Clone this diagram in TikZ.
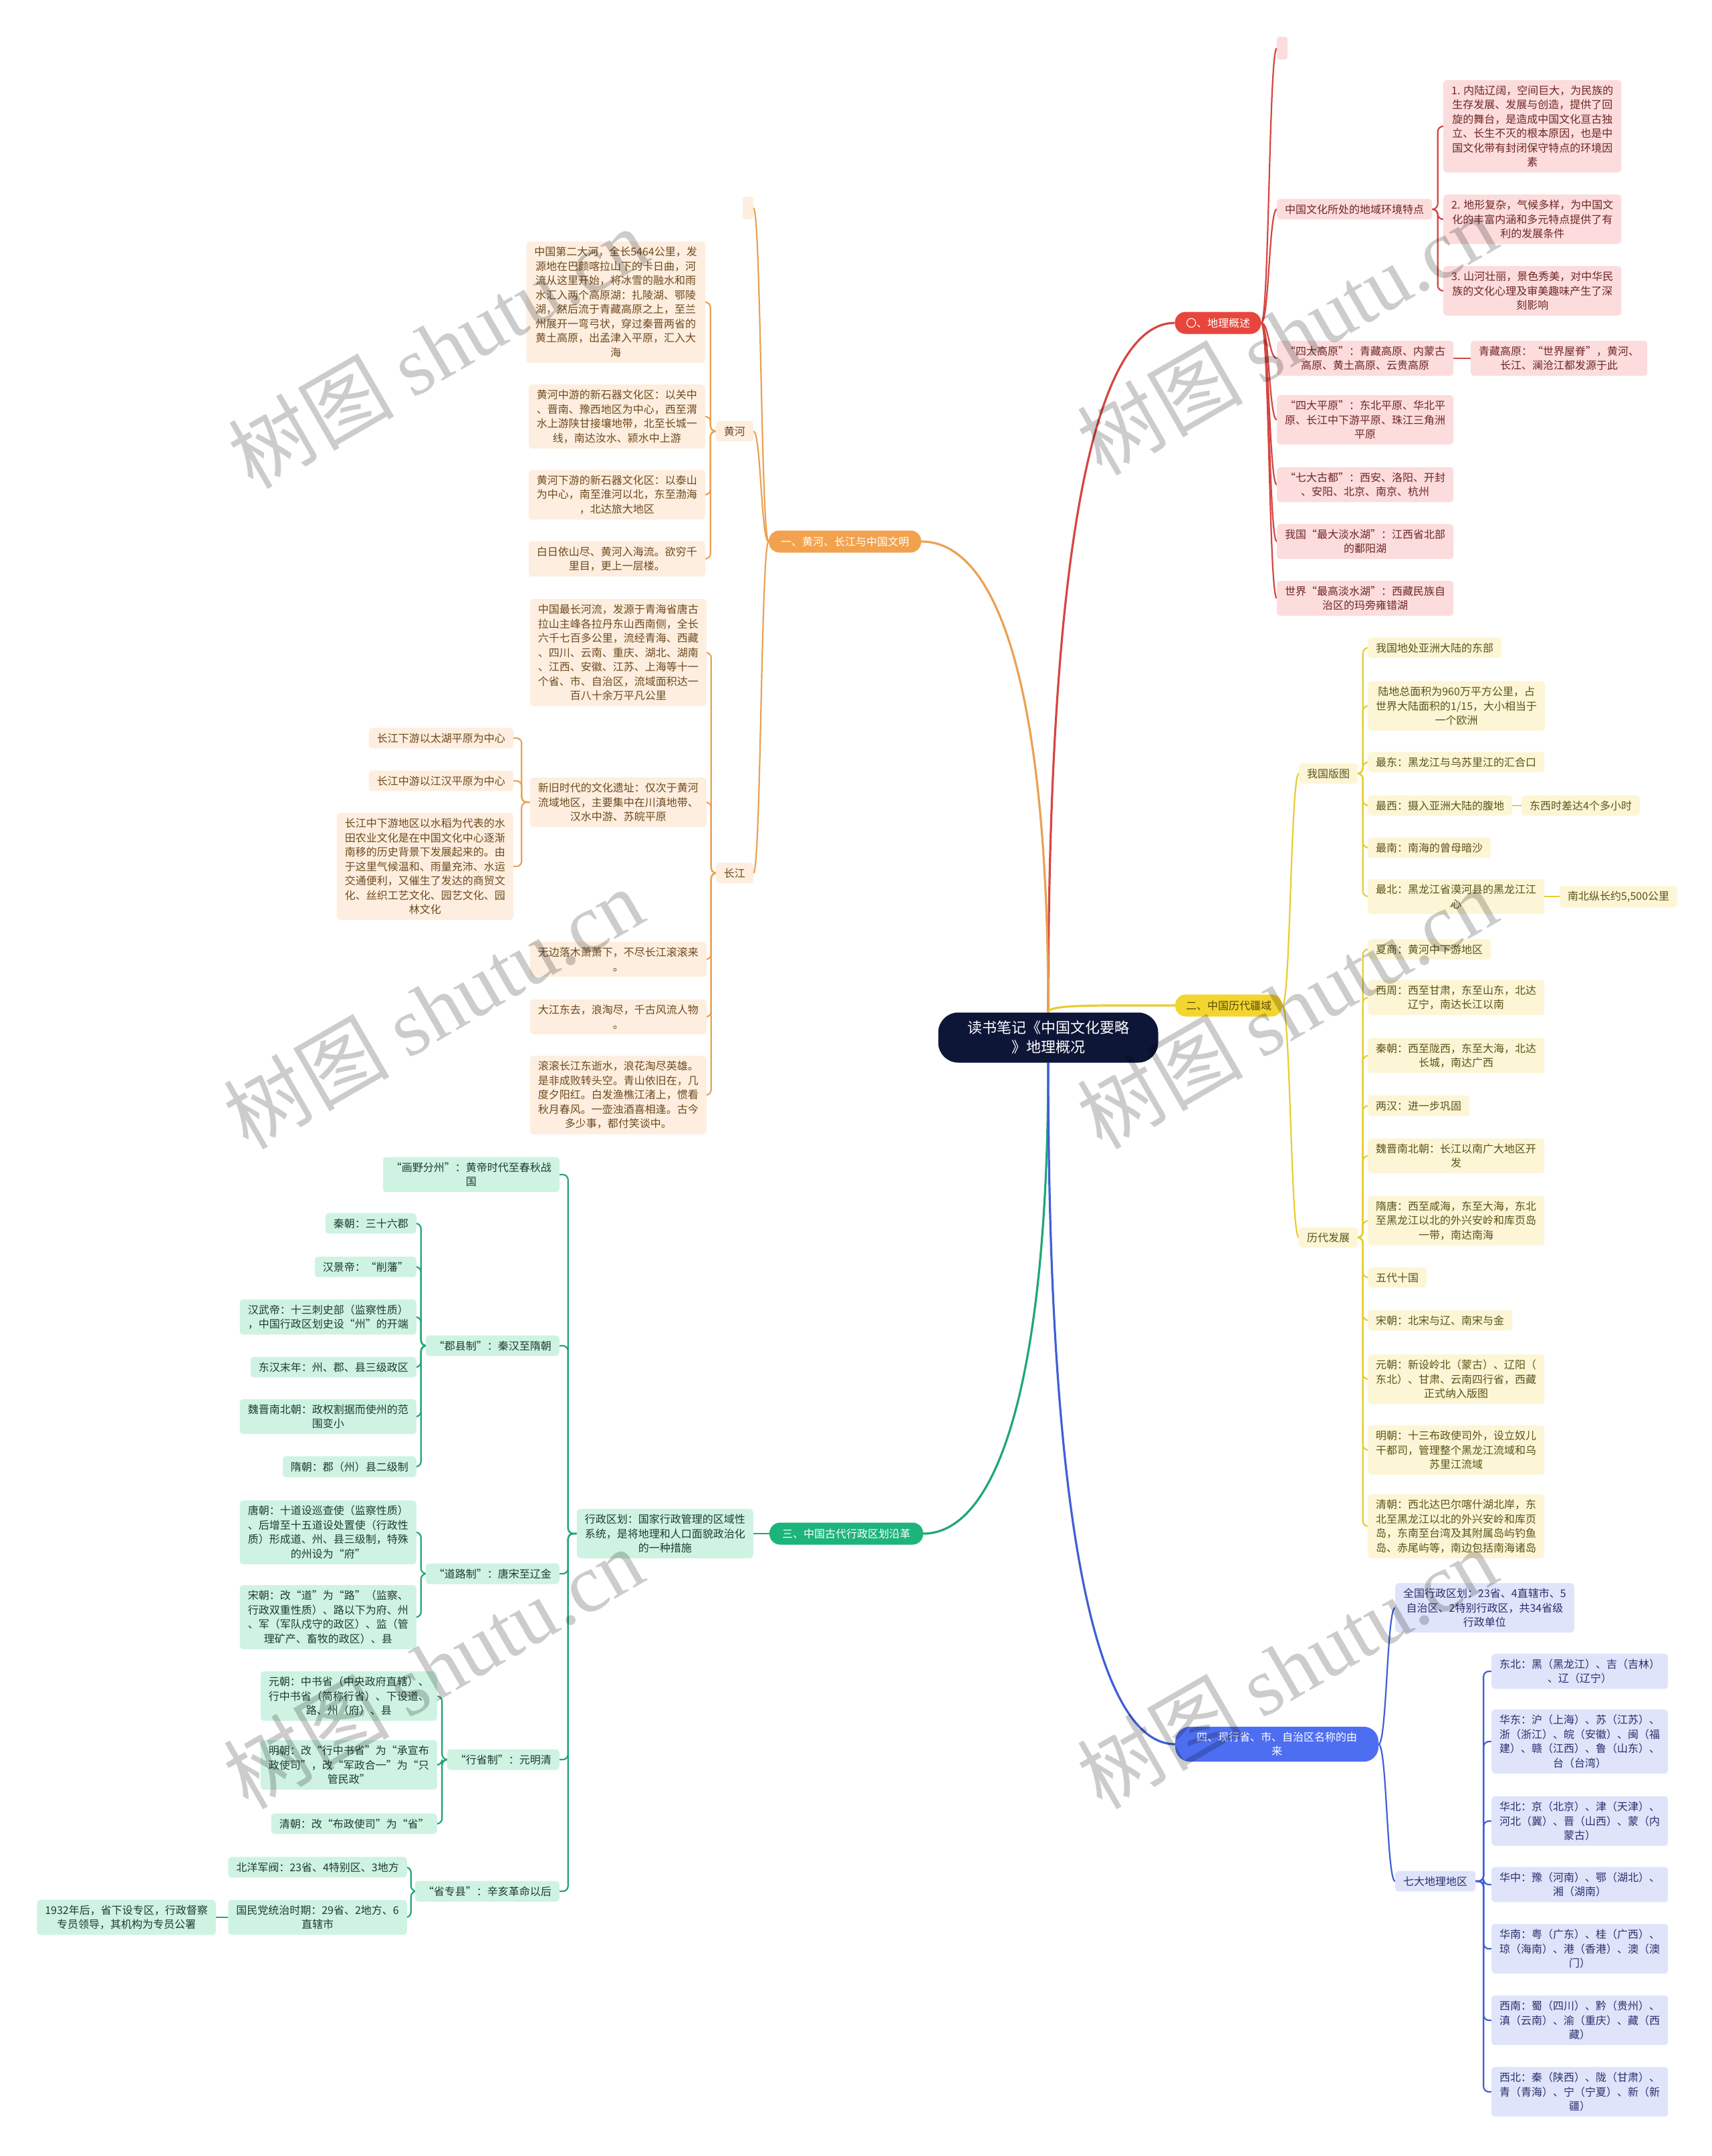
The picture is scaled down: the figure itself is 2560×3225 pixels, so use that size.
\documentclass[tikz,border=0pt]{standalone}
\usepackage{fontspec}
\setmainfont{Noto Sans CJK SC}
\newfontfamily\wmlatin{Liberation Serif}
\usetikzlibrary{calc}
\pgfdeclarelayer{bg}
\pgfsetlayers{bg,main}

\definecolor{rfill}{HTML}{FCDCDC}\definecolor{rtext}{HTML}{6E2626}\definecolor{rline}{HTML}{D64541}\definecolor{rpill}{HTML}{E8453C}
\definecolor{ofill}{HTML}{FDEEDF}\definecolor{otext}{HTML}{6E4A1E}\definecolor{oline}{HTML}{E9A253}\definecolor{opill}{HTML}{F2A24E}
\definecolor{yfill}{HTML}{FDF6D6}\definecolor{ytext}{HTML}{5C5218}\definecolor{yline}{HTML}{E8CD2E}\definecolor{ypill}{HTML}{F3D530}\definecolor{ypilltext}{HTML}{5A4A0E}
\definecolor{gfill}{HTML}{CFF3E3}\definecolor{gtext}{HTML}{1E3B2F}\definecolor{gline}{HTML}{1FA774}\definecolor{gpill}{HTML}{1DB47B}
\definecolor{bfill}{HTML}{DFE4FB}\definecolor{btext}{HTML}{28306B}\definecolor{bline}{HTML}{3F5FD6}\definecolor{bpill}{HTML}{4E6EF2}
\definecolor{cfill}{HTML}{0D1636}

\newcommand\curvlink[3]{\draw[#1] (#2) .. controls ($(#2)!0.5!(#3|-#2)$) and ($(#3)!0.5!(#2|-#3)$) .. (#3);}
\newcommand\elblink[3]{\draw[#1,rounded corners=8pt] (#2) -- ($(#2)!0.5!(#3|-#2)$) |- (#3);}

\tikzset{
  base/.style={font=\fontsize{16pt}{21.5pt}\selectfont, align=center, inner xsep=12pt, inner ysep=8pt, rounded corners=5pt},
  rb/.style={base, fill=rfill, text=rtext},
  ob/.style={base, fill=ofill, text=otext},
  yb/.style={base, fill=yfill, text=ytext},
  gb/.style={base, fill=gfill, text=gtext},
  bb/.style={base, fill=bfill, text=btext},
  pill/.style={font=\fontsize{16pt}{21.5pt}\selectfont, align=center, text=white, inner xsep=10pt, inner ysep=8pt, minimum height=33pt, rounded corners=16pt},
  emp/.style={minimum width=16pt, minimum height=34pt, inner sep=0pt, rounded corners=4pt},
  mainln/.style={line width=3.2pt},
  subln/.style={line width=2.2pt},
  wm/.style={text=black, text opacity=0.2, rotate=30, font=\fontsize{124pt}{124pt}\selectfont, inner sep=0pt}
}

\begin{document}
\begin{tikzpicture}[x=1pt,y=-1pt]
\useasboundingbox (0,0) rectangle (2560,3225);

% ---------------- centre ----------------
\node[fill=cfill, text=white, font=\fontsize{22pt}{29pt}\selectfont, align=center, minimum width=329pt, minimum height=75pt, inner ysep=10pt, rounded corners=30pt] (C) at (1568,1552) {读书笔记《中国文化要略\\》地理概况};

% ---------------- pills ----------------
\node[pill, fill=rpill, minimum width=129pt] (rp) at (1822,483) {〇、地理概述};
\node[pill, fill=opill, minimum width=228pt] (op) at (1264,810) {一、黄河、长江与中国文明};
\node[pill, fill=ypill, text=ypilltext, minimum width=160pt] (yp) at (1838,1504) {二、中国历代疆域};
\node[pill, fill=gpill, minimum width=230pt] (gp) at (1266,2294) {三、中国古代行政区划沿革};
\node[pill, fill=bpill, minimum width=304pt, rounded corners=22pt] (bp) at (1910,2609) {四、现行省、市、自治区名称的由\\来};

% ---------------- red branch ----------------
\node[emp, fill=rfill, anchor=west] (e0) at (1910,72) {};
\node[rb, anchor=west] (r1) at (1910,313) {中国文化所处的地域环境特点};
\node[rb, anchor=west] (r1a) at (2159,189) {1. 内陆辽阔，空间巨大，为民族的\\生存发展、发展与创造，提供了回\\旋的舞台，是造成中国文化亘古独\\立、长生不灭的根本原因，也是中\\国文化带有封闭保守特点的环境因\\素};
\node[rb, anchor=west] (r1b) at (2159,328) {2. 地形复杂，气候多样，为中国文\\化的丰富内涵和多元特点提供了有\\利的发展条件};
\node[rb, anchor=west] (r1c) at (2159,435) {3. 山河壮丽，景色秀美，对中华民\\族的文化心理及审美趣味产生了深\\刻影响};
\node[rb, anchor=west] (r2) at (1910,536) {“四大高原”：青藏高原、内蒙古\\高原、黄土高原、云贵高原};
\node[rb, anchor=west] (r2b) at (2200,536) {青藏高原：“世界屋脊”，黄河、\\长江、澜沧江都发源于此};
\node[rb, anchor=west] (r3) at (1910,628) {“四大平原”：东北平原、华北平\\原、长江中下游平原、珠江三角洲\\平原};
\node[rb, anchor=west] (r4) at (1910,725) {“七大古都”：西安、洛阳、开封\\、安阳、北京、南京、杭州};
\node[rb, anchor=west] (r5) at (1910,810) {我国“最大淡水湖”：江西省北部\\的鄱阳湖};
\node[rb, anchor=west] (r6) at (1910,895) {世界“最高淡水湖”：西藏民族自\\治区的玛旁雍错湖};

% ---------------- orange branch ----------------
\node[emp, fill=ofill, anchor=east] (e1) at (1127,311) {};
\node[ob, anchor=east] (hh) at (1127,645) {黄河};
\node[ob, anchor=east] (cj) at (1127,1306) {长江};
\node[ob, anchor=east] (h1) at (1055,452) {中国第二大河，全长5464公里，发\\源地在巴颜喀拉山下的卡日曲，河\\流从这里开始，将冰雪的融水和雨\\水汇入两个高原湖：扎陵湖、鄂陵\\湖，然后流于青藏高原之上，至兰\\州展开一弯弓状，穿过秦晋两省的\\黄土高原，出孟津入平原，汇入大\\海};
\node[ob, anchor=east] (h2) at (1055,623) {黄河中游的新石器文化区：以关中\\、晋南、豫西地区为中心，西至渭\\水上游陕甘接壤地带，北至长城一\\线，南达汝水、颍水中上游};
\node[ob, anchor=east] (h3) at (1055,740) {黄河下游的新石器文化区：以泰山\\为中心，南至淮河以北，东至渤海\\，北达旅大地区};
\node[ob, anchor=east] (h4) at (1055,836) {白日依山尽、黄河入海流。欲穷千\\里目，更上一层楼。};
\node[ob, anchor=east] (c1) at (1057,976) {中国最长河流，发源于青海省唐古\\拉山主峰各拉丹东山西南侧，全长\\六千七百多公里，流经青海、西藏\\、四川、云南、重庆、湖北、湖南\\、江西、安徽、江苏、上海等十一\\个省、市、自治区，流域面积达一\\百八十余万平凡公里};
\node[ob, anchor=east] (c2) at (1057,1200) {新旧时代的文化遗址：仅次于黄河\\流域地区，主要集中在川滇地带、\\汉水中游、苏皖平原};
\node[ob, anchor=east] (c3) at (1057,1435) {无边落木萧萧下，不尽长江滚滚来\\。};
\node[ob, anchor=east] (c4) at (1057,1521) {大江东去，浪淘尽，千古风流人物\\。};
\node[ob, anchor=east] (c5) at (1057,1638) {滚滚长江东逝水，浪花淘尽英雄。\\是非成败转头空。青山依旧在，几\\度夕阳红。白发渔樵江渚上，惯看\\秋月春风。一壶浊酒喜相逢。古今\\多少事，都付笑谈中。};
\node[ob, anchor=east] (l1) at (768,1104) {长江下游以太湖平原为中心};
\node[ob, anchor=east] (l2) at (768,1168) {长江中游以江汉平原为中心};
\node[ob, anchor=east] (l3) at (768,1296) {长江中下游地区以水稻为代表的水\\田农业文化是在中国文化中心逐渐\\南移的历史背景下发展起来的。由\\于这里气候温和、雨量充沛、水运\\交通便利，又催生了发达的商贸文\\化、丝织工艺文化、园艺文化、园\\林文化};

% ---------------- yellow branch ----------------
\node[yb, anchor=west] (gt) at (1943,1157) {我国版图};
\node[yb, anchor=west] (ld) at (1943,1851) {历代发展};
\node[yb, anchor=west] (y1) at (2046,969) {我国地处亚洲大陆的东部};
\node[yb, anchor=west] (y2) at (2046,1056) {陆地总面积为960万平方公里，占\\世界大陆面积的1/15，大小相当于\\一个欧洲};
\node[yb, anchor=west] (y3) at (2046,1140) {最东：黑龙江与乌苏里江的汇合口};
\node[yb, anchor=west] (y4) at (2046,1205) {最西：摄入亚洲大陆的腹地};
\node[yb, anchor=west] (y4b) at (2276,1205) {东西时差达4个多小时};
\node[yb, anchor=west] (y5) at (2046,1268) {最南：南海的曾母暗沙};
\node[yb, anchor=west] (y6) at (2046,1341) {最北：黑龙江省漠河县的黑龙江江\\心};
\node[yb, anchor=west] (y6b) at (2333,1341) {南北纵长约5,500公里};
\node[yb, anchor=west] (d1) at (2046,1420) {夏商：黄河中下游地区};
\node[yb, anchor=west] (d2) at (2046,1492) {西周：西至甘肃，东至山东，北达\\辽宁，南达长江以南};
\node[yb, anchor=west] (d3) at (2046,1579) {秦朝：西至陇西，东至大海，北达\\长城，南达广西};
\node[yb, anchor=west] (d4) at (2046,1654) {两汉：进一步巩固};
\node[yb, anchor=west] (d5) at (2046,1729) {魏晋南北朝：长江以南广大地区开\\发};
\node[yb, anchor=west] (d6) at (2046,1826) {隋唐：西至咸海，东至大海，东北\\至黑龙江以北的外兴安岭和库页岛\\一带，南达南海};
\node[yb, anchor=west] (d7) at (2046,1911) {五代十国};
\node[yb, anchor=west] (d8) at (2046,1975) {宋朝：北宋与辽、南宋与金};
\node[yb, anchor=west] (d9) at (2046,2063) {元朝：新设岭北（蒙古）、辽阳（\\东北）、甘肃、云南四行省，西藏\\正式纳入版图};
\node[yb, anchor=west] (d10) at (2046,2169) {明朝：十三布政使司外，设立奴儿\\干都司，管理整个黑龙江流域和乌\\苏里江流域};
\node[yb, anchor=west] (d11) at (2046,2283) {清朝：西北达巴尔喀什湖北岸，东\\北至黑龙江以北的外兴安岭和库页\\岛，东南至台湾及其附属岛屿钓鱼\\岛、赤尾屿等，南边包括南海诸岛};

% ---------------- green branch ----------------
\node[gb, anchor=east] (g0) at (1127,2294) {行政区划：国家行政管理的区域性\\系统，是将地理和人口面貌政治化\\的一种措施};
\node[gb, anchor=east] (g1) at (837,1757) {“画野分州”：黄帝时代至春秋战\\国};
\node[gb, anchor=east] (g2) at (837,2013) {“郡县制”：秦汉至隋朝};
\node[gb, anchor=east] (g3) at (837,2354) {“道路制”：唐宋至辽金};
\node[gb, anchor=east] (g4) at (837,2632) {“行省制”：元明清};
\node[gb, anchor=east] (g5) at (837,2829) {“省专县”：辛亥革命以后};
\node[gb, anchor=east] (q1) at (623,1830) {秦朝：三十六郡};
\node[gb, anchor=east] (q2) at (623,1895) {汉景帝：“削藩”};
\node[gb, anchor=east] (q3) at (623,1970) {汉武帝：十三刺史部（监察性质）\\，中国行政区划史设“州”的开端};
\node[gb, anchor=east] (q4) at (623,2045) {东汉末年：州、郡、县三级政区};
\node[gb, anchor=east] (q5) at (623,2119) {魏晋南北朝：政权割据而使州的范\\围变小};
\node[gb, anchor=east] (q6) at (623,2194) {隋朝：郡（州）县二级制};
\node[gb, anchor=east] (t1) at (623,2292) {唐朝：十道设巡查使（监察性质）\\、后增至十五道设处置使（行政性\\质）形成道、州、县三级制，特殊\\的州设为“府”};
\node[gb, anchor=east] (t2) at (623,2419) {宋朝：改“道”为“路”（监察、\\行政双重性质）、路以下为府、州\\、军（军队戍守的政区）、监（管\\理矿产、畜牧的政区）、县};
\node[gb, anchor=east] (u1) at (654,2537) {元朝：中书省（中央政府直辖）、\\行中书省（简称行省）、下设道、\\路、州（府）、县};
\node[gb, anchor=east] (u2) at (654,2640) {明朝：改“行中书省”为“承宣布\\政使司”，改“军政合一”为“只\\管民政”};
\node[gb, anchor=east] (u3) at (654,2728) {清朝：改“布政使司”为“省”};
\node[gb, anchor=east] (v1) at (609,2793) {北洋军阀：23省、4特别区、3地方};
\node[gb, anchor=east] (v2) at (609,2868) {国民党统治时期：29省、2地方、6\\直辖市};
\node[gb, anchor=east] (v3) at (323,2868) {1932年后，省下设专区，行政督察\\专员领导，其机构为专员公署};

% ---------------- blue branch ----------------
\node[bb, anchor=west] (b1) at (2087,2405) {全国行政区划：23省、4直辖市、5\\自治区、2特别行政区，共34省级\\行政单位};
\node[bb, anchor=west] (b2) at (2087,2814) {七大地理地区};
\node[bb, anchor=west] (k1) at (2231,2500) {东北：黑（黑龙江）、吉（吉林）\\、辽（辽宁）};
\node[bb, anchor=west] (k2) at (2231,2605) {华东：沪（上海）、苏（江苏）、\\浙（浙江）、皖（安徽）、闽（福\\建）、赣（江西）、鲁（山东）、\\台（台湾）};
\node[bb, anchor=west] (k3) at (2231,2724) {华北：京（北京）、津（天津）、\\河北（冀）、晋（山西）、蒙（内\\蒙古）};
\node[bb, anchor=west] (k4) at (2231,2819) {华中：豫（河南）、鄂（湖北）、\\湘（湖南）};
\node[bb, anchor=west] (k5) at (2231,2915) {华南：粤（广东）、桂（广西）、\\琼（海南）、港（香港）、澳（澳\\门）};
\node[bb, anchor=west] (k6) at (2231,3022) {西南：蜀（四川）、黔（贵州）、\\滇（云南）、渝（重庆）、藏（西\\藏）};
\node[bb, anchor=west] (k7) at (2231,3129) {西北：秦（陕西）、陇（甘肃）、\\青（青海）、宁（宁夏）、新（新\\疆）};

% ---------------- connectors ----------------
\begin{pgfonlayer}{bg}
\fill[white] (0,0) rectangle (2560,3225);
% centre to pills
\draw[mainln, rline] (C.north) .. controls ($(C.north)+(0,-750)$) and ($(rp.west)+(-110,0)$) .. (rp.west);
\draw[mainln, oline] (C.north) .. controls ($(C.north)+(0,-500)$) and ($(op.east)+(110,0)$) .. (op.east);
\draw[mainln, yline] (C.north) .. controls ($(C.north)+(0,-12)$) and ($(yp.west)+(-120,0)$) .. (yp.west);
\draw[mainln, gline] (C.south) .. controls ($(C.south)+(0,480)$) and ($(gp.east)+(110,0)$) .. (gp.east);
\draw[mainln, bline] (C.south) .. controls ($(C.south)+(0,730)$) and ($(bp.west)+(-110,0)$) .. (bp.west);
% red
\foreach \n in {e0,r1,r2,r3,r4,r5,r6}{\curvlink{subln,rline}{rp.east}{\n.west}}
\foreach \n in {r1a,r1b,r1c}{\elblink{subln,rline}{r1.east}{\n.west}}
\draw[subln, rline] (r2.east) -- (r2b.west);
% orange
\foreach \n in {e1,hh,cj}{\curvlink{subln,oline}{op.west}{\n.east}}
\foreach \n in {h1,h2,h3,h4}{\elblink{subln,oline}{hh.west}{\n.east}}
\foreach \n in {c1,c2,c3,c4,c5}{\elblink{subln,oline}{cj.west}{\n.east}}
\foreach \n in {l1,l2,l3}{\elblink{subln,oline}{c2.west}{\n.east}}
% yellow
\foreach \n in {gt,ld}{\curvlink{subln,yline}{yp.east}{\n.west}}
\foreach \n in {y1,y2,y3,y4,y5,y6}{\elblink{subln,yline}{gt.east}{\n.west}}
\foreach \n in {d1,d2,d3,d4,d5,d6,d7,d8,d9,d10,d11}{\elblink{subln,yline}{ld.east}{\n.west}}
\draw[subln, yline] (y4.east) -- (y4b.west);
\draw[subln, yline] (y6.east) -- (y6b.west);
% green
\draw[subln, gline] (gp.west) -- (g0.east);
\foreach \n in {g1,g2,g3,g4,g5}{\elblink{subln,gline}{g0.west}{\n.east}}
\foreach \n in {q1,q2,q3,q4,q5,q6}{\elblink{subln,gline}{g2.west}{\n.east}}
\foreach \n in {t1,t2}{\elblink{subln,gline}{g3.west}{\n.east}}
\foreach \n in {u1,u2,u3}{\elblink{subln,gline}{g4.west}{\n.east}}
\foreach \n in {v1,v2}{\elblink{subln,gline}{g5.west}{\n.east}}
\draw[subln, gline] (v2.west) -- (v3.east);
% blue
\foreach \n in {b1,b2}{\curvlink{subln,bline}{bp.east}{\n.west}}
\foreach \n in {k1,k2,k3,k4,k5,k6,k7}{\elblink{subln,bline}{b2.east}{\n.west}}
\end{pgfonlayer}

% ---------------- watermarks ----------------
\foreach \p [count=\i] in {(655,520),(1925,500),(648,1508),(1925,1508),(648,2495),(1925,2495)}{
  \node[wm] (wm\i) at \p {树图 {\wmlatin shutu.cn}};
}
\end{tikzpicture}
\end{document}
